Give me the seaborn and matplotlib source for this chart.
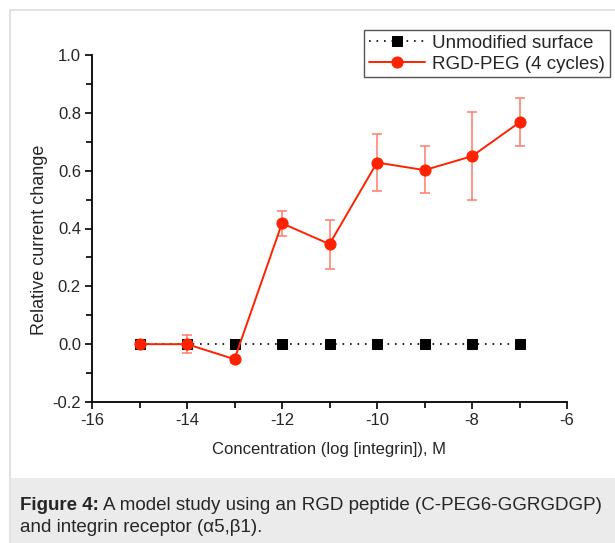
import numpy as np
import pandas as pd
import matplotlib.pyplot as plt
import matplotlib.patches as mpatches
import seaborn as sns

# data
log_conc = [-15, -14, -13, -12, -11, -10, -9, -8, -7]
unmodified = [0, 0, 0, 0, 0, 0, 0, 0, 0]
rgd_peg = [0.0, 0.0, -0.052, 0.418, 0.346, 0.628, 0.602, 0.650, 0.767]
rgd_err_low = [0.0, 0.03, 0.012, 0.045, 0.085, 0.097, 0.080, 0.150, 0.082]
rgd_err_high = [0.0, 0.03, 0.012, 0.043, 0.085, 0.100, 0.083, 0.152, 0.083]

sns.set_style("ticks")
plt.rcParams['font.family'] = ['Liberation Sans', 'DejaVu Sans']
plt.rcParams['axes.unicode_minus'] = False

fig = plt.figure(figsize=(6.15, 5.43), dpi=100)

# page frame and caption box
fig.patches.append(mpatches.Rectangle((10 / 615, 0), 1.0, 533 / 543, transform=fig.transFigure,
                                      facecolor='white', edgecolor='#dddddd', linewidth=1.2, zorder=-5))
fig.patches.append(mpatches.Rectangle((11 / 615, 0), 1.0, 65 / 543, transform=fig.transFigure,
                                      facecolor='#ebebeb', edgecolor='none', zorder=-4))

ax = fig.add_axes([92 / 615, 141 / 543, 475 / 615, 347 / 543])
ax.set_facecolor('none')

df = pd.DataFrame({'x': log_conc, 'unmod': unmodified, 'rgd': rgd_peg})

sns.lineplot(data=df, x='x', y='unmod', ax=ax, color='black', linestyle=(0, (1, 3.5)),
             linewidth=1.2, marker='s', markersize=6.5, markeredgecolor='black',
             label='Unmodified surface', zorder=3)
ax.errorbar(log_conc, rgd_peg, yerr=[rgd_err_low, rgd_err_high], fmt='none',
            ecolor='#ff7a6a', elinewidth=1.1, capsize=3.5, capthick=1.1, zorder=4)
sns.lineplot(data=df, x='x', y='rgd', ax=ax, color='#ff2200', linewidth=1.4,
             marker='o', markersize=8, markeredgecolor='#ff2200',
             label='RGD-PEG (4 cycles)', zorder=5)

ax.set_xlim(-16, -6)
ax.set_ylim(-0.2, 1.0)
ax.set_xticks(np.arange(-16, -5, 2))
ax.set_xticks(np.arange(-15, -6, 2), minor=True)
ax.set_yticks(np.arange(-0.2, 1.01, 0.2))
ax.set_yticks(np.arange(-0.1, 1.0, 0.2), minor=True)
ax.set_yticklabels([f'{v:.1f}' for v in np.arange(-0.2, 1.01, 0.2)])
ax.tick_params(which='major', length=5, width=1.2, labelsize=12, color='black', pad=3)
ax.tick_params(which='minor', length=4, width=1.2, color='black')
sns.despine(ax=ax)
for s in ['left', 'bottom']:
    ax.spines[s].set_linewidth(1.3)
    ax.spines[s].set_color('black')

ax.set_xlabel('Concentration (log [integrin]), M', fontsize=12, labelpad=10)
ax.set_ylabel('Relative current change', fontsize=13)
ax.yaxis.set_label_coords(-0.093, 0.467)

ax.legend(loc='upper right', bbox_to_anchor=(610 / 615, 513 / 543), bbox_transform=fig.transFigure,
          fontsize=13.5, frameon=True, fancybox=False, edgecolor='#555555', framealpha=1,
          borderpad=0.25, handlelength=3.0, handletextpad=0.4, labelspacing=0.2, borderaxespad=0)

y1 = 1 - 505 / 543
t = fig.text(20 / 615, y1, 'Figure 4:', fontsize=13.5, fontweight='bold', va='center', ha='left')
fig.canvas.draw()
bb = t.get_window_extent()
fig.text(bb.x1 / fig.bbox.width + 4 / 615, y1,
         'A model study using an RGD peptide (C-PEG6-GGRGDGP)',
         fontsize=13.5, va='center', ha='left')
fig.text(20 / 615, 1 - 527 / 543, 'and integrin receptor (\u03b15,\u03b21).',
         fontsize=13.5, va='center', ha='left')

fig.savefig('out.png', dpi=100)
